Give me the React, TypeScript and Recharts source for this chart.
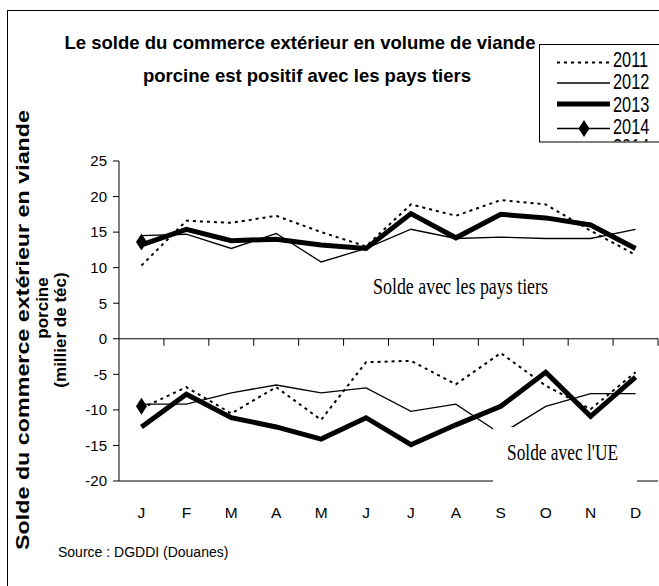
import React from 'react'
import { LineChart, Line, XAxis, YAxis, ReferenceLine } from 'recharts'

const months = ['J', 'F', 'M', 'A', 'M', 'J', 'J', 'A', 'S', 'O', 'N', 'D']
const yTicks = [25, 20, 15, 10, 5, 0, -5, -10, -15, -20]
const years = ['2011', '2012', '2013', '2014']

// Solde avec les pays tiers (milliers de téc)
const tiers2011 = [10.3, 16.6, 16.3, 17.3, 15.0, 13.0, 18.9, 17.3, 19.5, 18.9, 15.2, 11.8]
const tiers2012 = [14.5, 14.7, 12.7, 14.8, 10.8, 12.7, 15.4, 14.1, 14.3, 14.1, 14.1, 15.4]
const tiers2013 = [13.2, 15.4, 13.8, 14.0, 13.2, 12.7, 17.6, 14.2, 17.5, 17.0, 16.0, 12.7]
const tiers2014 = [13.6, null, null, null, null, null, null, null, null, null, null, null]

// Solde avec l'UE
const ue2011 = [-9.8, -6.8, -10.5, -6.8, -11.4, -3.3, -3.1, -6.4, -2.0, -6.6, -9.9, -4.7]
const ue2012 = [-9.2, -9.2, -7.6, -6.5, -7.6, -6.9, -10.2, -9.2, -13.4, -9.5, -7.7, -7.7]
const ue2013 = [-12.4, -7.8, -11.1, -12.4, -14.1, -11.1, -14.9, -12.1, -9.5, -4.7, -10.9, -5.4]
const ue2014 = [-9.5, null, null, null, null, null, null, null, null, null, null, null]

const tiers = [tiers2011, tiers2012, tiers2013, tiers2014]
const ue = [ue2011, ue2012, ue2013, ue2014]

const monthIdx = months.map((_, i) => i)

const data = months.map((month, i) => {
  const row: Record<string, string | number | null> = { month, idx: i }
  years.forEach((y, k) => {
    row['tiers' + y] = tiers[k][i]
    row['ue' + y] = ue[k][i]
  })
  return row
})

const SANS = "'Liberation Sans', Arial, sans-serif"
const SERIF = "'Liberation Serif', 'Times New Roman', serif"

const lineStyle: Record<string, { width: number; dash?: string; diamond?: boolean }> = {
  '2011': { width: 2, dash: '3 4' },
  '2012': { width: 1.3 },
  '2013': { width: 5 },
  '2014': { width: 1.3, diamond: true },
}

const diamondPoints = (cx: number, cy: number) =>
  `${cx},${cy - 8.5} ${cx + 5.5},${cy} ${cx},${cy + 8.5} ${cx - 5.5},${cy}`

const Diamond = (props: any) => {
  const { cx, cy, value, index } = props
  if (value == null || cx == null || cy == null) return <g key={index} />
  return <polygon key={index} points={diamondPoints(cx, cy)} fill="#000" />
}

// axe horizontal à 0 avec graduations vers le bas
const ZeroLine = (props: any) => {
  const { x1, y1, x2, y2 } = props
  const step = (x2 - x1) / months.length
  return (
    <g>
      <line x1={x1} y1={y1} x2={x2} y2={y2} stroke="#000" strokeWidth={1} />
      {months.map((_, k) => (
        <line
          key={k}
          x1={x1 + step * (k + 1)}
          x2={x1 + step * (k + 1)}
          y1={y1}
          y2={y1 + 7}
          stroke="#000"
          strokeWidth={1}
        />
      ))}
    </g>
  )
}

const legendY = [66.5, 89, 111.5, 134, 154]
const sampleY = [62.5, 83, 104, 128.5]

const LegendLabel = ({ y, label }: { y: number; label: string }) => (
  <text transform={`translate(613 ${y}) scale(0.76 1)`} fontFamily={SANS} fontSize={21.5}>
    {label}
  </text>
)

export default function App() {
  return (
    <div
      style={{
        position: 'absolute',
        left: 0,
        top: 0,
        width: 659,
        height: 586,
        overflow: 'hidden',
        background: '#fff',
      }}
    >
      <div style={{ position: 'absolute', left: 0, top: 0 }}>
        <LineChart
          width={659}
          height={586}
          data={data}
          margin={{ top: 161, right: 1, bottom: 0, left: 0 }}
        >
          <XAxis
            dataKey="idx"
            type="number"
            domain={[-0.5, months.length - 0.5]}
            ticks={monthIdx}
            interval={0}
            tickFormatter={(v) => months[v]}
            height={105}
            tickLine={false}
            tickSize={0}
            tickMargin={26}
            axisLine={{ stroke: '#000' }}
            tick={{ fontSize: 15.5, fill: '#000', fontFamily: SANS }}
          />
          <XAxis
            xAxisId="top"
            dataKey="idx"
            type="number"
            domain={[-0.5, months.length - 0.5]}
            orientation="top"
            height={0}
            tick={false}
            tickLine={false}
            axisLine={{ stroke: '#666' }}
          />
          <YAxis
            width={119}
            domain={[-20, 25]}
            ticks={yTicks}
            interval={0}
            tickSize={6}
            tickMargin={6}
            axisLine={{ stroke: '#000' }}
            tickLine={{ stroke: '#000' }}
            tick={{ fontSize: 15, fill: '#000', fontFamily: SANS }}
          />
          <YAxis
            yAxisId="right"
            orientation="right"
            width={0}
            domain={[-20, 25]}
            tick={false}
            tickLine={false}
            axisLine={{ stroke: '#333' }}
          />
          <ReferenceLine y={0} shape={ZeroLine} />
          {years.map((y) =>
            ['tiers', 'ue'].map((zone) => {
              const s = lineStyle[y]
              return (
                <Line
                  key={zone + y}
                  dataKey={zone + y}
                  stroke="#000"
                  strokeWidth={s.width}
                  strokeDasharray={s.dash}
                  dot={s.diamond ? Diamond : false}
                  activeDot={false}
                  isAnimationActive={false}
                  strokeLinejoin="miter"
                />
              )
            })
          )}
        </LineChart>
      </div>

      <svg
        width={659}
        height={586}
        style={{ position: 'absolute', left: 0, top: 0, pointerEvents: 'none' }}
      >
        <rect x={7.5} y={10.5} width={800} height={800} fill="none" stroke="#000" />

        <text x={300} y={49} textAnchor="middle" fontFamily={SANS} fontWeight="bold" fontSize={18.5}>
          Le solde du commerce extérieur en volume de viande
        </text>
        <text x={307} y={82} textAnchor="middle" fontFamily={SANS} fontWeight="bold" fontSize={18.5}>
          porcine est positif avec les pays tiers
        </text>

        <g fontFamily={SANS} fontWeight="bold" textAnchor="middle">
          <text x={29} y={330} transform="rotate(-90 29 330)" fontSize={18} textLength={440} lengthAdjust="spacingAndGlyphs">
            Solde du commerce extérieur en viande
          </text>
          <text x={48} y={308} transform="rotate(-90 48 308)" fontSize={17}>
            porcine
          </text>
          <text x={66} y={330} transform="rotate(-90 66 330)" fontSize={17}>
            (millier de téc)
          </text>
        </g>

        <rect x={539.5} y={44.5} width={200} height={97.5} fill="#fff" stroke="#000" />
        <svg x={540} y={45} width={200} height={96.5} overflow="hidden">
          <g transform="translate(-540,-45)">
            {years.map((y, k) => {
              const s = lineStyle[y]
              return (
                <g key={y}>
                  <line
                    x1={557}
                    x2={610}
                    y1={sampleY[k]}
                    y2={sampleY[k]}
                    stroke="#000"
                    strokeWidth={s.width}
                    strokeDasharray={s.dash}
                  />
                  {s.diamond && <polygon points={diamondPoints(584, sampleY[k])} fill="#000" />}
                  <LegendLabel y={legendY[k]} label={y} />
                </g>
              )
            })}
            <LegendLabel y={legendY[4]} label="2014" />
          </g>
        </svg>

        <text x={373} y={294} fontFamily={SERIF} fontSize={23} textLength={175} lengthAdjust="spacingAndGlyphs">
          Solde avec les pays tiers
        </text>

        <rect x={493} y={427} width={144} height={61} fill="#fff" />
        <text x={507} y={460} fontFamily={SERIF} fontSize={23} textLength={111} lengthAdjust="spacingAndGlyphs">
          Solde avec l'UE
        </text>

        <text x={58} y={557} fontFamily={SANS} fontSize={14}>
          Source : DGDDI (Douanes)
        </text>
      </svg>
    </div>
  )
}
